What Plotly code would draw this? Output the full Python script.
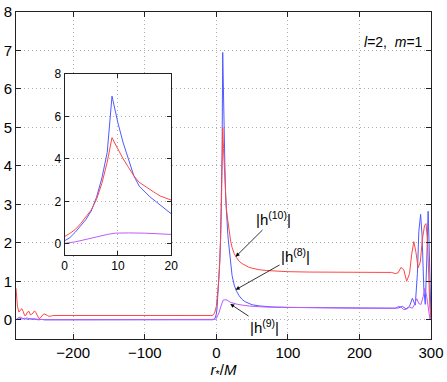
import plotly.graph_objects as go

# |h^(10)| (red)
x_h10 = [-280, -278, -276, -274, -272, -270, -268, -266, -264, -262, -260, -258, -256, -254, -252, -250,
         -248, -246, -244, -242, -240, -238, -236, -234, -232, -230, -228, -226, -224, -222, -220, -200,
         -150, -100, -50, -20, -10, -6, -4, -2, 0, 1, 2, 3, 4, 5, 6, 7, 8, 8.9, 9.5, 10, 11, 12, 13, 14,
         15, 16, 17, 18, 19, 20, 22, 25, 28, 32, 36, 40, 45, 50, 60, 70, 80, 100, 130, 160, 200, 230, 245,
         250, 254, 258, 262, 266, 270, 273, 276, 279, 282, 285, 288, 291, 293, 295, 297, 298.5, 300]
y_h10 = [0.82, 0.35, 0.2, 0.25, 0.29, 0.22, 0.11, 0.12, 0.2, 0.22, 0.13, 0.14, 0.2, 0.23, 0.18, 0.08,
         0.03, 0.05, 0.1, 0.14, 0.15, 0.14, 0.11, 0.09, 0.09, 0.1, 0.11, 0.11, 0.11, 0.105, 0.1, 0.1,
         0.1, 0.1, 0.1, 0.1, 0.1, 0.11, 0.13, 0.2, 0.35, 0.5, 0.68, 0.95, 1.25, 1.6, 2.1, 2.85, 3.85, 5.0,
         4.7, 4.45, 4.0, 3.6, 3.2, 2.9, 2.72, 2.55, 2.4, 2.25, 2.14, 2.04, 1.88, 1.72, 1.62, 1.52, 1.46,
         1.41, 1.37, 1.34, 1.3, 1.28, 1.27, 1.25, 1.24, 1.24, 1.23, 1.23, 1.23, 1.2, 1.22, 1.36, 1.3, 1.0,
         1.2, 1.7, 2.03, 1.75, 1.35, 1.5, 2.1, 2.45, 2.5, 2.1, 1.0, 0.3, 0.05]

# |h^(8)| (blue)
x_h8 = [-280, -276, -272, -268, -264, -260, -256, -252, -248, -244, -240, -230, -200, -100, -20, -5, -2,
        0, 1, 2, 3, 4, 5, 6, 7, 8, 8.9, 9.5, 10, 11, 12, 13, 14, 15, 16, 17, 18, 19, 20, 22, 25, 28, 32,
        36, 40, 45, 50, 60, 70, 80, 100, 150, 200, 250, 255, 260, 265, 270, 274, 278, 281, 283, 285.5,
        287.5, 290, 292, 294, 296, 298, 300]
y_h8 = [0.0, 0.05, 0.02, 0.04, 0.01, 0.03, 0.01, 0.02, 0.0, 0.01, 0.0, 0.0, 0.0, 0.0, 0.0, 0.0, 0.03,
        0.15, 0.3, 0.55, 0.85, 1.15, 1.55, 2.2, 3.1, 4.3, 6.95, 6.2, 5.7, 4.75, 3.95, 3.2, 2.72, 2.45,
        2.22, 2.02, 1.82, 1.62, 1.42, 1.15, 0.9, 0.75, 0.62, 0.53, 0.47, 0.42, 0.39, 0.36, 0.34, 0.33,
        0.32, 0.31, 0.31, 0.3, 0.31, 0.35, 0.28, 0.35, 0.56, 0.38, 1.2, 2.3, 2.74, 2.2, 0.8, 0.4, 1.5,
        2.82, 1.5, 0.0]

# |h^(9)| (purple)
x_h9 = [-280, -277, -274, -271, -268, -265, -262, -259, -256, -253, -250, -245, -240, -200, -100, -10,
        -3, -1, 0, 2, 4, 6, 8, 9.5, 12, 15, 20, 25, 30, 40, 50, 70, 100, 150, 200, 240, 250, 255, 258,
        262, 266, 270, 274, 277, 280, 283, 286, 289, 291.5, 294, 296.5, 298.5, 300]
y_h9 = [0.0, 0.05, 0.07, 0.04, 0.01, 0.05, 0.04, 0.01, 0.03, 0.02, 0.0, 0.01, 0.0, 0.0, 0.0, 0.0,
        0.0, 0.01, 0.03, 0.1, 0.2, 0.33, 0.45, 0.51, 0.52, 0.51, 0.45, 0.42, 0.4, 0.37, 0.35, 0.33, 0.32,
        0.31, 0.3, 0.3, 0.3, 0.35, 0.33, 0.26, 0.28, 0.33, 0.3, 0.4, 0.55, 0.42, 0.4, 0.6, 0.82, 0.6,
        0.2, 0.02, 0.0]

main_xticks = [-200, -100, 0, 100, 200, 300]
main_yticks = [0, 1, 2, 3, 4, 5, 6, 7, 8]
inset_xticks = [0, 10, 20]
inset_yticks = [0, 2, 4, 6, 8]

RED = 'rgb(255,70,70)'
BLUE = 'rgb(80,90,255)'
PURPLE = 'rgb(190,90,255)'
FONT = 'Liberation Sans, Arial, sans-serif'
GRID = 'rgb(175,175,175)'

fig = go.Figure()
series = [(x_h8, y_h8, BLUE), (x_h10, y_h10, RED), (x_h9, y_h9, PURPLE)]
for xs, ys, col in series:
    fig.add_trace(go.Scatter(x=xs, y=ys, mode='lines', line={'color': col, 'width': 1},
                             xaxis='x', yaxis='y', showlegend=False))
for xs, ys, col in series:
    fig.add_trace(go.Scatter(x=xs, y=ys, mode='lines', line={'color': col, 'width': 1},
                             xaxis='x2', yaxis='y2', showlegend=False))

axis_common = dict(showline=True, linecolor='#222', linewidth=1, mirror='ticks', ticks='inside',
                   tickcolor='#222', showgrid=True, gridcolor=GRID, griddash='1px,3px', gridwidth=1,
                   zeroline=False, color='black', automargin=False)

fig.update_layout(
    width=447, height=382,
    margin=dict(l=16, r=16, t=12, b=43),
    paper_bgcolor='white', plot_bgcolor='white',
    font=dict(family=FONT, size=15, color='black'),
    xaxis=dict(range=[-280, 300], tickvals=main_xticks, ticklen=5, domain=[0, 1], anchor='y',
               title=dict(text='<i>r</i><sub>*</sub>/<i>M</i>', standoff=0, font=dict(size=15)),
               **axis_common),
    yaxis=dict(range=[-0.5, 8], tickvals=main_yticks, ticklen=5, domain=[0, 1], anchor='x',
               **axis_common),
    xaxis2=dict(range=[0, 20], tickvals=inset_xticks, ticklen=4, domain=[0.117, 0.374], anchor='y2',
                tickfont=dict(size=12), **axis_common),
    yaxis2=dict(range=[-0.5, 8], tickvals=inset_yticks, ticklen=4, domain=[0.258, 0.811], anchor='x2',
                tickfont=dict(size=12), **axis_common),
)

arrow = dict(showarrow=True, arrowhead=2, arrowsize=1, arrowwidth=0.8, arrowcolor='black',
             axref='x', ayref='y', xref='x', yref='y', font=dict(size=15))
fig.add_annotation(x=27, y=1.64, ax=80, ay=2.62, text='|h<sup>(10)</sup>|', **arrow)
fig.add_annotation(x=27, y=0.78, ax=110.7, ay=1.66, text='|h<sup>(8)</sup>|', **arrow)
fig.add_annotation(x=19.5, y=0.41, ax=67.4, ay=-0.18, text='|h<sup>(9)</sup>|', **arrow)
fig.add_annotation(x=248, y=7.22, xref='x', yref='y', showarrow=False,
                   text='<i>l</i>=2,  <i>m</i>=1', font=dict(size=14))

# the page's default body margin would shift the figure by 8px
fig.write_html("out.html", config={'displayModeBar': False},
               post_script="document.body.style.margin='0';")
